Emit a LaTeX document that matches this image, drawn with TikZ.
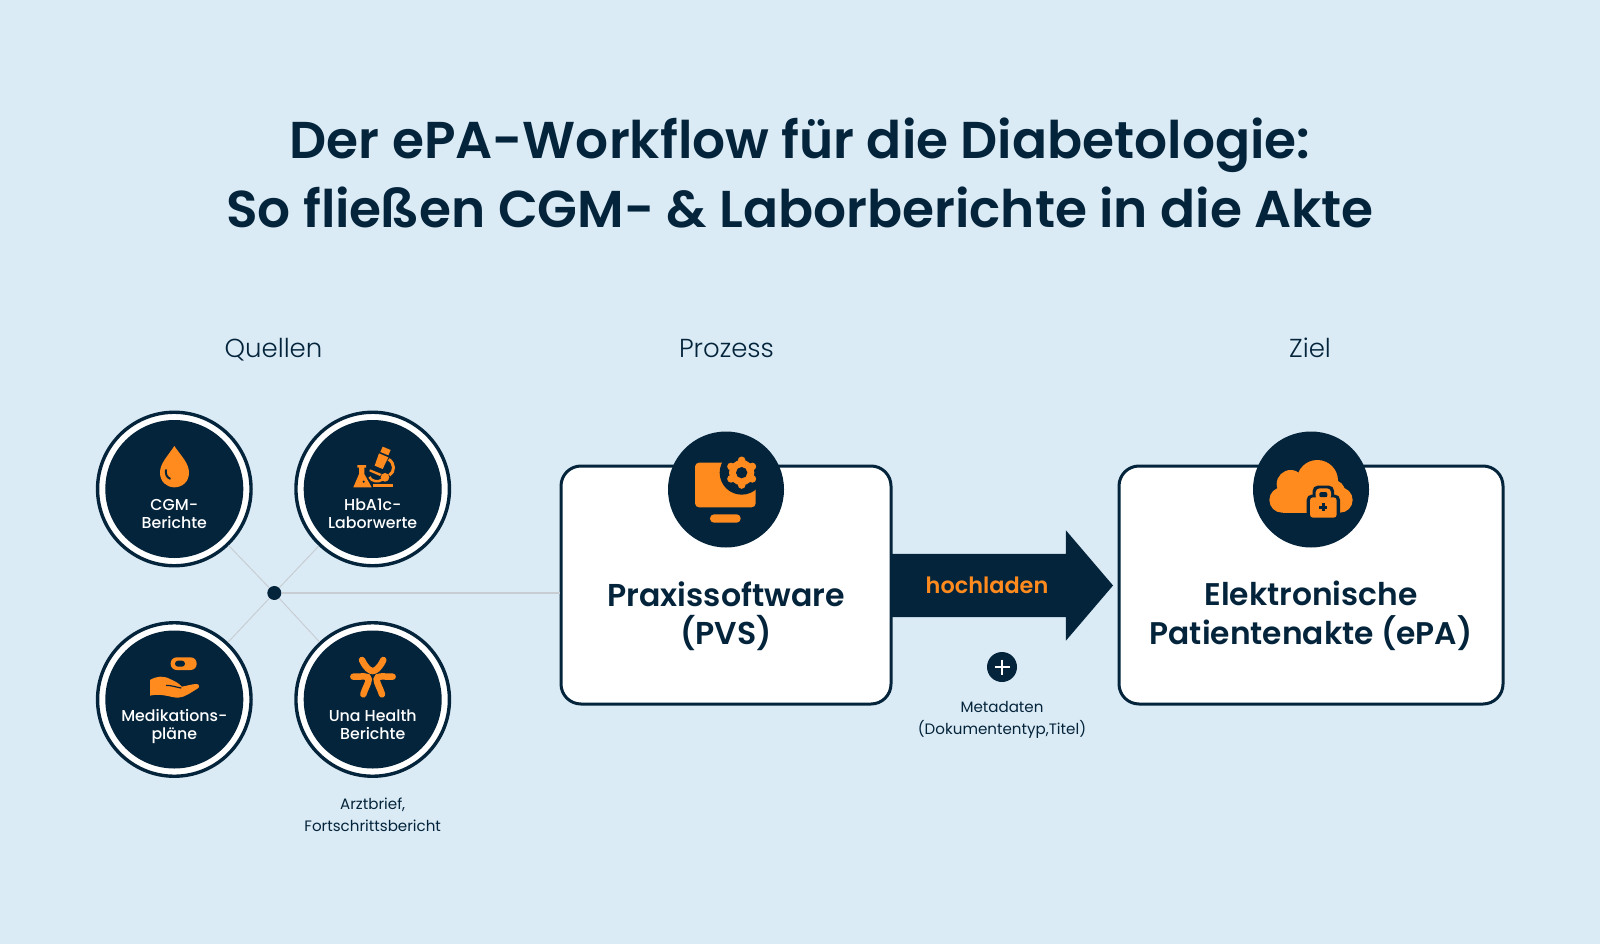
\documentclass[tikz,border=0pt]{standalone}
\usepackage{fontspec}
\usetikzlibrary{shapes.arrows}
\setmainfont{Poppins}
\newfontfamily\fsemi{Poppins SemiBold}
\newfontfamily\fmed{Poppins Medium}
\newfontfamily\flight{Poppins Light}
\definecolor{bgc}{HTML}{DBEBF5}
\definecolor{navy}{HTML}{04243B}
\definecolor{org}{HTML}{FF8A1E}
\definecolor{linec}{HTML}{C8CDD3}
\tikzset{
  outerring/.style={circle,draw=navy,line width=3.4pt,fill=white,minimum size=153.5pt,inner sep=0pt},
  innerdisc/.style={circle,fill=navy,minimum size=138pt,inner sep=0pt},
  iconbadge/.style={circle,fill=navy,minimum size=116pt,inner sep=0pt},
  cardbox/.style={draw=navy,line width=3pt,fill=white,rounded corners=20pt,inner sep=0pt},
  circtext/.style={font=\fmed\fontsize{15.8}{18}\selectfont,text=white,align=center,inner sep=0pt},
  cardtext/.style={font=\fsemi\fontsize{31.6}{38.5}\selectfont,text=navy,align=center,inner sep=0pt},
  headtext/.style={font=\flight\fontsize{26}{30}\selectfont,text=navy,inner sep=0pt},
  notetext/.style={font=\fontsize{15.1}{22}\selectfont,text=navy,align=center,inner sep=0pt},
  titletext/.style={font=\fsemi\fontsize{51.8}{69}\selectfont,text=navy,align=center,inner sep=0pt},
  linkline/.style={draw=linec,line width=1pt},
  zoomone/.style={shift={(80,400)},x=.33333pt,y=-.33333pt},
  zoomtwo/.style={shift={(80,600)},x=.33333pt,y=-.33333pt},
  zoomthree/.style={shift={(640,420)},x=.33333pt,y=-.33333pt},
  zoomfour/.style={shift={(1230,420)},x=.33333pt,y=-.33333pt},
}
\begin{document}
\begin{tikzpicture}[x=1pt,y=-1pt]
\useasboundingbox (0,0) rectangle (1600,944);
\fill[bgc] (0,0) rectangle (1600,944);

\node[titletext] (title) at (800,173) {Der ePA-Workflow für die Diabetologie:\\So fließen CGM- \& Laborberichte in die Akte};
\node[headtext] (hq) at (273.5,350) {Quellen};
\node[headtext] (hp) at (726.5,349) {Prozess};
\node[headtext] (hz) at (1310,348) {Ziel};

% source circles
\node[outerring] (c1) at (174.3,489) {};
\node[outerring] (c2) at (372.7,489) {};
\node[outerring] (c3) at (174.3,699.5) {};
\node[outerring] (c4) at (372.7,699.5) {};
\node[innerdisc] at (c1) {};
\node[innerdisc] at (c2) {};
\node[innerdisc] at (c3) {};
\node[innerdisc] at (c4) {};

% boxes
\node[cardbox,minimum width=330pt,minimum height=238pt] (b1) at (726,585) {};
\node[cardbox,minimum width=384pt,minimum height=238pt] (b2) at (1311,585) {};

% hub + links
\node[circle,fill=navy,minimum size=14pt,inner sep=0pt] (hub) at (274.3,593) {};
\draw[linkline] (hub) -- (c1);
\draw[linkline] (hub) -- (c2);
\draw[linkline] (hub) -- (c3);
\draw[linkline] (hub) -- (c4);
\draw[linkline,line width=2pt] (hub) -- (hub -| b1.west);

% badges
\node[iconbadge] (i1) at (726,489.5) {};
\node[iconbadge] (i2) at (1311,489.5) {};

% arrow
\node[single arrow,fill=navy,anchor=west,inner xsep=0pt,inner ysep=31.5pt,outer sep=0pt,
      minimum height=222pt,single arrow head extend=23.5pt,
      single arrow tip angle=99,shape border rotate=0] (arw) at (891,585.5) {};
\node[font=\fsemi\fontsize{22.4}{28}\selectfont,text=org,inner sep=0pt] (hl) at (987,585) {hochladen};

% plus
\node[circle,fill=navy,minimum size=30pt,inner sep=0pt] (plus) at (1002,667) {};
\draw[white,line width=2.4pt] (plus.center) +(-7.5,0) -- +(7.5,0) (plus.center) +(0,-7.5) -- +(0,7.5);

% texts
\node[circtext] (t1) at (174.3,514) {CGM-\\Berichte};
\node[circtext] (t2) at (372.7,514) {HbA1c-\\Laborwerte};
\node[circtext] (t3) at (174.3,726) {Medikations-\\pläne};
\node[circtext] (t4) at (372.7,724.5) {Una Health\\Berichte};
\node[notetext] (n1) at (372.7,815) {Arztbrief,\\Fortschrittsbericht};
\node[notetext] (n2) at (1002,720) {Metadaten\\(Dokumententyp,Titel)};
\node[cardtext] (ct1) at (726,616) {Praxissoftware\\(PVS)};
\node[cardtext,font=\fsemi\fontsize{31.3}{38.5}\selectfont] (ct2) at (1311,616) {Elektronische\\Patientenakte (ePA)};

% drop icon
\begin{scope}[zoomone]
\fill[org] (283,138) .. controls (262,170) and (240,190) .. (240,218) .. controls (240,245) and (260,262) .. (283,262) .. controls (307,262) and (327,245) .. (327,218) .. controls (327,190) and (305,170) .. (283,138) -- cycle;
\draw[navy,line width=2pt,line cap=round] (258,210) .. controls (256,222) and (260,232) .. (270,236);
% flask
\fill[org] (832,195) -- (858,195) -- (858,203) -- (853,203) -- (853,222) -- (875,262) -- (820,262) -- (837,222) -- (837,203) -- (832,203) -- cycle;
\fill[navy] (851,245) circle (3.5);
% microscope
\fill[org] (908,140) -- (932,150) -- (925,166) -- (901,156) -- cycle;
\fill[org] (897,160) -- (925,172) -- (908,207) -- (884,197) -- cycle;
\draw[org,line width=3pt] (926,178) .. controls (945,190) and (945,215) .. (928,226);
\fill[org] (870,208) -- (905,222) -- (900,228) -- (868,214) -- cycle;
\fill[org] (915,232) circle (13);
\draw[org,line width=2.5pt] (868,231) .. controls (875,245) and (895,248) .. (908,238);
\fill[org] (880,252) rectangle (938,262);
\end{scope}

% hand icon
\begin{scope}[zoomtwo]
\fill[org,rounded corners=6pt] (272,172) rectangle (350,210);
\fill[navy,rounded corners=3pt] (285,182) rectangle (315,200);
\fill[org] (210,240) .. controls (230,228) and (250,226) .. (272,238) .. controls (285,244) and (298,250) .. (305,260) .. controls (320,258) and (335,252) .. (350,252) .. controls (358,252) and (360,262) .. (352,266) .. controls (335,276) and (315,292) .. (295,293) .. controls (275,294) and (245,278) .. (210,287) -- cycle;
\draw[navy,line width=1.2pt] (258,256) .. controls (275,256) and (290,262) .. (304,264);
% Una logo
\draw[org,line width=6.5pt,line cap=round] (846,180) .. controls (858,205) and (870,213) .. (878,213) .. controls (886,213) and (898,205) .. (910,180);
\draw[org,line width=6.5pt,line cap=round] (820,230) .. controls (850,230) and (866,226) .. (866,238) .. controls (866,250) and (855,265) .. (850,283);
\draw[org,line width=6.5pt,line cap=round] (938,230) .. controls (908,230) and (890,226) .. (890,238) .. controls (890,250) and (901,265) .. (906,283);
\end{scope}

% monitor icon
\begin{scope}[zoomthree]
\fill[org,rounded corners=4pt] (165,128) rectangle (347,262);
\fill[navy] (305,158) circle (66);
\fill[org] (305,158) circle (38);
\foreach \a in {30,90,150,210,270,330}{\fill[org] (305,158) ++(\a:37) circle (11.5);}
\fill[navy] (305,158) circle (17);
\fill[org,rounded corners=4pt] (210,283) rectangle (302,308);
\end{scope}

% cloud icon
\begin{scope}[zoomfour]
\fill[org] (262,182) circle (62);
\fill[org] (182,192) circle (42);
\fill[org] (156,240) circle (38);
\fill[org] (330,240) circle (38);
\fill[org] (310,215) circle (35);
\fill[org] (160,205) rectangle (330,278);
\fill[navy,rounded corners=5pt] (230,224) rectangle (330,303);
\fill[navy,rounded corners=5pt] (248,197) rectangle (312,240);
\fill[org,rounded corners=4pt] (257,205) rectangle (303,240);
\fill[navy,rounded corners=2pt] (268,216) rectangle (292,232);
\fill[org,rounded corners=3pt] (240,232) rectangle (320,293);
\draw[navy,line width=2.6pt] (268,262) -- (292,262) (280,250) -- (280,274);
\end{scope}
\end{tikzpicture}
\end{document}
